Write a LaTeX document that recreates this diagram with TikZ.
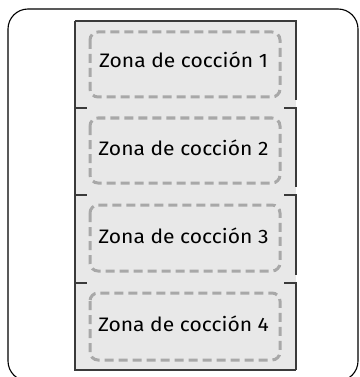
\documentclass[tikz,border=0pt]{standalone}
\usepackage{fontspec}
\setmainfont{Fira Sans}
\newfontfamily\zonefont[FakeStretch=1.08]{Fira Sans}
\definecolor{panelfill}{HTML}{E8E8E8}
\definecolor{paneledge}{HTML}{3A3A3A}
\definecolor{dashgray}{HTML}{A8A8A8}
\tikzset{
  frame/.style={draw=black, line width=1.1pt, rounded corners=20pt},
  edge/.style={draw=paneledge, line width=1.2pt},
  zone/.style={draw=dashgray, line width=3pt, rounded corners=8pt, dash pattern=on 9pt off 5pt},
  zonetext/.style={font=\zonefont\fontsize{19.5}{22}\selectfont, anchor=base, inner sep=0pt}
}
\begin{document}
\begin{tikzpicture}[x=1pt, y=-1pt]
\useasboundingbox (0,0) rectangle (359,377);
% outer frame
\draw[frame] (8,9) rectangle (358,381);
% panels fill
\fill[panelfill] (75,21) rectangle (296,370);
% left edge and ticks
\draw[edge] (75,21) -- (75,370) -- (296,370);
\draw[edge] (75,21) -- (296,21) -- (296,100);
\foreach \t/\b in {108/187, 195/275, 283/370} {
  \draw[edge] (75,\t) -- (87,\t);
  \draw[edge] (284,\t) -- (296,\t) -- (296,\b);
}
% dashed zones
\foreach \i/\t/\b in {1/32/97, 2/118/183, 3/205/271, 4/293/360} {
  \draw[zone] (90,\t) rectangle (280,\b);
}
\node[zonetext] (z1) at (183.5,67.5) {Zona de cocción 1};
\node[zonetext] (z2) at (183.5,155) {Zona de cocción 2};
\node[zonetext] (z3) at (183.5,243.5) {Zona de cocción 3};
\node[zonetext] (z4) at (183.5,331.5) {Zona de cocción 4};
\end{tikzpicture}
\end{document}
